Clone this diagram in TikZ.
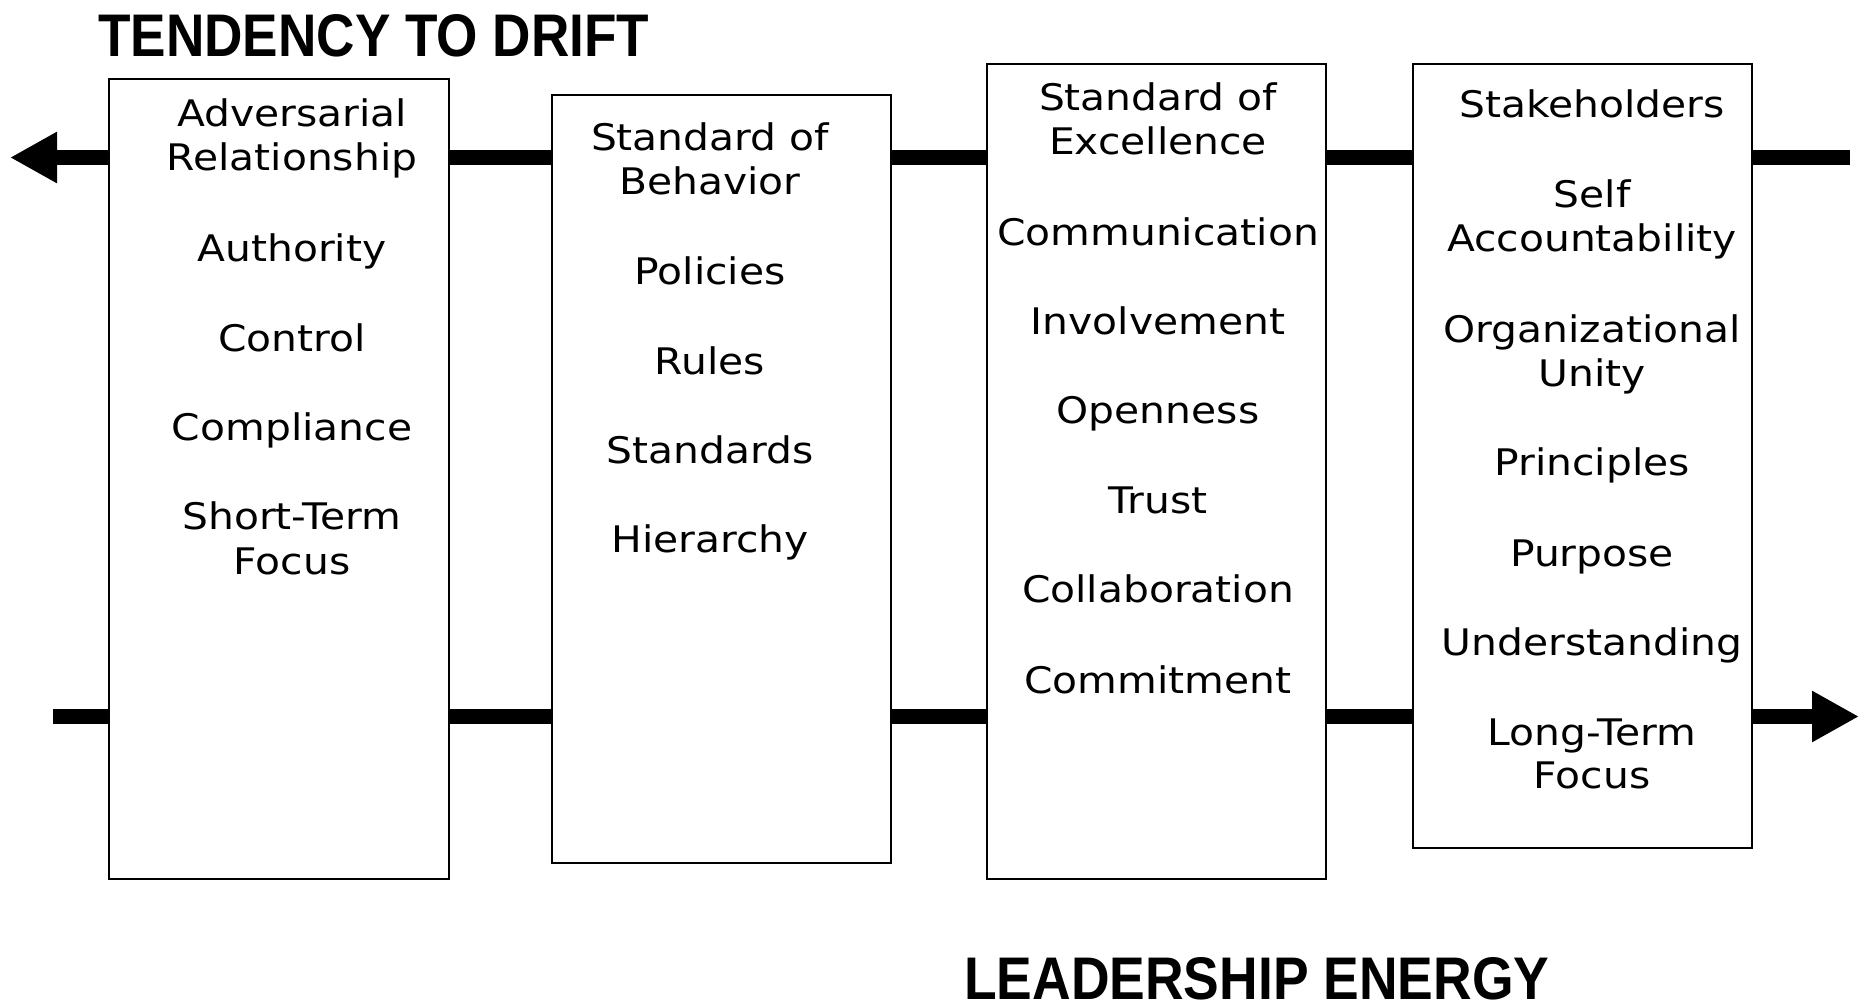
\documentclass[tikz,border=0pt]{standalone}
\usepackage{graphicx}
\usepackage{fontspec}
\setmainfont{Liberation Sans}
\newfontfamily\boxfont[FakeStretch=1.115]{DejaVu Sans}
\usetikzlibrary{arrows.meta}
\begin{document}
\begin{tikzpicture}[x=1pt,y=-1pt,
  panel/.style={draw=black, line width=2pt, fill=white, inner sep=0pt, anchor=north west},
  word/.style={font=\boxfont\fontsize{36.6}{42}\selectfont, inner sep=0pt, anchor=base},
  flow/.style={line width=15pt},
  flowtip/.style={flow, -{Triangle[length=47pt,width=48pt]}},
  title/.style={inner sep=0pt, anchor=base west, font=\bfseries}]
\useasboundingbox (0,0) rectangle (1870,1005);
% boxes
\node[panel, minimum width=340pt, minimum height=800pt] (b1) at (108,78) {};
\node[panel, minimum width=339pt, minimum height=768pt] (b2) at (551,94) {};
\node[panel, minimum width=339pt, minimum height=815.5pt] (b3) at (985.5,62.5) {};
\node[panel, minimum width=339pt, minimum height=784pt] (b4) at (1412,62.5) {};
% end points
\coordinate (tl) at (10,157.5);
\coordinate (tr) at (1850,157.5);
\coordinate (bl) at (53,716.5);
\coordinate (br) at (1859,716.5);
% top flow
\draw[flowtip] (b1.west |- tl) -- (tl);
\draw[flow] (b1.east |- tl) -- (b2.west |- tl);
\draw[flow] (b2.east |- tl) -- (b3.west |- tl);
\draw[flow] (b3.east |- tl) -- (b4.west |- tl);
\draw[flow] (b4.east |- tl) -- (tr);
% bottom flow
\draw[flow] (bl) -- (b1.west |- bl);
\draw[flow] (b1.east |- bl) -- (b2.west |- bl);
\draw[flow] (b2.east |- bl) -- (b3.west |- bl);
\draw[flow] (b3.east |- bl) -- (b4.west |- bl);
\draw[flowtip] (b4.east |- bl) -- (br);
% texts
\foreach \t/\y [count=\i] in {Adversarial/126, Relationship/170.5, Authority/261, Control/351, Compliance/440, Short-Term/529.5, Focus/574}
  \node[word] (ta\i) at (292,\y) {\t};
\foreach \t/\y [count=\i] in {Standard of/150, Behavior/194.5, Policies/284, Rules/374, Standards/463, Hierarchy/552}
  \node[word] (tb\i) at (710,\y) {\t};
\foreach \t/\y [count=\i] in {Standard of/110.5, Excellence/154, Communication/245, Involvement/334, Openness/423, Trust/513, Collaboration/602, Commitment/693}
  \node[word] (tc\i) at (1158,\y) {\t};
\foreach \t/\y [count=\i] in {Stakeholders/117, Self/207, Accountability/251.5, Organizational/342.5, Unity/386, Principles/475.5, Purpose/566.5, Understanding/655.5, Long-Term/745, Focus/788.5}
  \node[word] (td\i) at (1592,\y) {\t};
% titles
\node[title] (drift) at (98,56) {\resizebox{551pt}{42pt}{TENDENCY TO DRIFT}};
\node[title] (energy) at (964,999) {\resizebox{585pt}{42pt}{LEADERSHIP ENERGY}};
\end{tikzpicture}
\end{document}
